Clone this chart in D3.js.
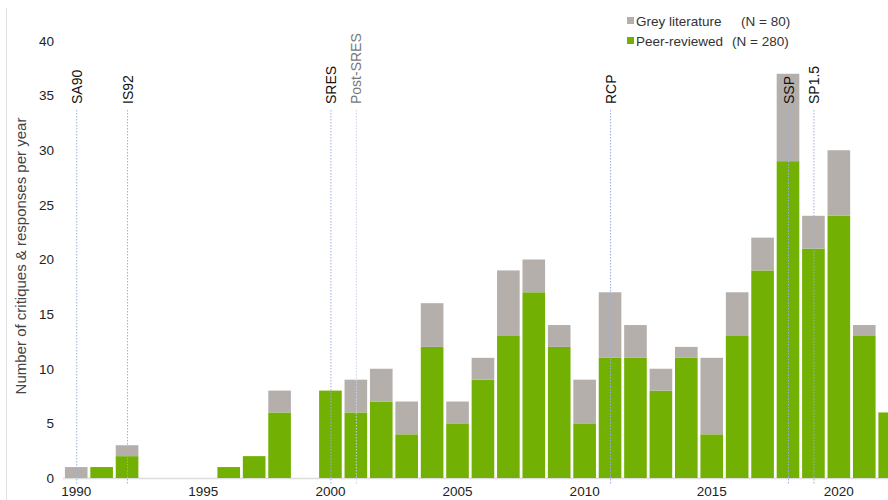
<!DOCTYPE html>
<html>
<head>
<meta charset="utf-8">
<script src="https://cdn.jsdelivr.net/npm/d3@7"></script>
<style>
  html, body { margin: 0; padding: 0; background: #fff; }
  svg { display: block; font-family: "Liberation Sans", Arial, Helvetica, sans-serif; }
</style>
</head>
<body>
<svg id="chart" width="888" height="500"></svg>
<script>
const years = d3.range(1990, 2023);
const peerReviewed = [0,1,2,0,0,0,1,2,6,0,8,6,7,4,12,5,9,13,17,12,5,11,11,8,11,4,13,19,29,21,24,13,6];
const greyLiterature = [1,0,1,0,0,0,0,0,2,0,0,3,3,3,4,2,2,6,3,2,4,6,3,2,1,7,4,3,8,3,6,1,0];
const yTicks = [0,5,10,15,20,25,30,35,40];
const xTickYears = [1990,1995,2000,2005,2010,2015,2020];
const scenarioYears = [1990,1992,2000,2001,2011,2018,2019];
const scenarioLabels = ["SA90","IS92","SRES","Post-SRES","RCP","SSP","SP1.5"];
const legendLabels = ["Grey literature","Peer-reviewed"];
const legendCounts = ["(N = 80)","(N = 280)"];

const svg = d3.select("#chart");
const GREEN = "#72b004", GREY = "#b5afac";

const x = d3.scaleBand().domain(years).range([63.5, 902.4]).paddingInner(0.11).paddingOuter(0.055);
const y = d3.scaleLinear().domain([0, 40]).range([478, 41]);

// left frame line
svg.append("line").attr("x1", 6.5).attr("x2", 6.5).attr("y1", 8).attr("y2", 500)
  .attr("stroke", "#e2e2e2").attr("stroke-width", 1);

// baseline
svg.append("line").attr("x1", 63).attr("x2", 888).attr("y1", y(0) + 0.5).attr("y2", y(0) + 0.5)
  .attr("stroke", "#dcdcdc").attr("stroke-width", 1.5);

const data = years.map((yr, i) => ({ yr, g: peerReviewed[i], r: greyLiterature[i] }));

// bars
const gb = svg.append("g");
gb.selectAll("rect.green").data(data.filter(d => d.g > 0)).join("rect")
  .attr("class", "green")
  .attr("x", d => x(d.yr)).attr("width", x.bandwidth())
  .attr("y", d => y(d.g)).attr("height", d => y(0) - y(d.g))
  .attr("fill", GREEN);
gb.selectAll("rect.grey").data(data.filter(d => d.r > 0)).join("rect")
  .attr("class", "grey")
  .attr("x", d => x(d.yr)).attr("width", x.bandwidth())
  .attr("y", d => y(d.g + d.r)).attr("height", d => y(d.g) - y(d.g + d.r))
  .attr("fill", GREY);

// y axis labels
const yAxis = d3.axisLeft(y).tickValues(yTicks).tickSize(0).tickPadding(0);
const ya = svg.append("g").attr("transform", "translate(54,0)").call(yAxis);
ya.select(".domain").remove();
ya.selectAll("text").attr("font-size", 13.5).attr("fill", "#222").attr("font-family", "Liberation Sans, Arial, sans-serif");

// x axis labels
const xAxis = d3.axisBottom(x).tickValues(xTickYears).tickSize(0).tickPadding(0);
const xa = svg.append("g").attr("transform", `translate(0,${y(0) + 8})`).call(xAxis);
xa.select(".domain").remove();
xa.selectAll("text").attr("font-size", 13.5).attr("fill", "#222").attr("font-family", "Liberation Sans, Arial, sans-serif");

// scenario lines & labels
const sc = scenarioYears.map((yr, i) => ({ yr, label: scenarioLabels[i] }));
const sg = svg.append("g");
sg.selectAll("line").data(sc).join("line")
  .attr("x1", d => x(d.yr) + x.bandwidth() / 2 + 0.5)
  .attr("x2", d => x(d.yr) + x.bandwidth() / 2 + 0.5)
  .attr("y1", 110).attr("y2", 485)
  .attr("stroke", d => d.label === "Post-SRES" ? "#c9d2ea" : "#9fb0de")
  .attr("stroke-width", 1).attr("stroke-dasharray", "1.5,1.5");
sg.selectAll("text").data(sc).join("text")
  .attr("transform", d => `translate(${x(d.yr) + x.bandwidth() / 2 + 5.5},104) rotate(-90)`)
  .attr("text-anchor", "start")
  .attr("font-size", 14)
  .attr("fill", d => d.label === "Post-SRES" ? "#777" : "#111")
  .text(d => d.label);

// y axis title
svg.append("text")
  .attr("transform", "translate(26,256) rotate(-90)")
  .attr("text-anchor", "middle")
  .attr("font-size", 15)
  .attr("fill", "#444")
  .text("Number of critiques & responses per year");

// legend
const lg = svg.append("g");
const legColors = [GREY, GREEN];
legendLabels.forEach((lab, i) => {
  const yy = 21 + i * 20;
  lg.append("rect").attr("x", 627).attr("y", yy - 4).attr("width", 7).attr("height", 7).attr("fill", legColors[i]);
  lg.append("text").attr("x", 636).attr("y", yy + 5).attr("font-size", 13.5).attr("fill", "#333").text(lab);
  lg.append("text").attr("x", i === 0 ? 741 : 732).attr("y", yy + 5).attr("font-size", 13.5).attr("fill", "#333").text(legendCounts[i]);
});
</script>
</body>
</html>
